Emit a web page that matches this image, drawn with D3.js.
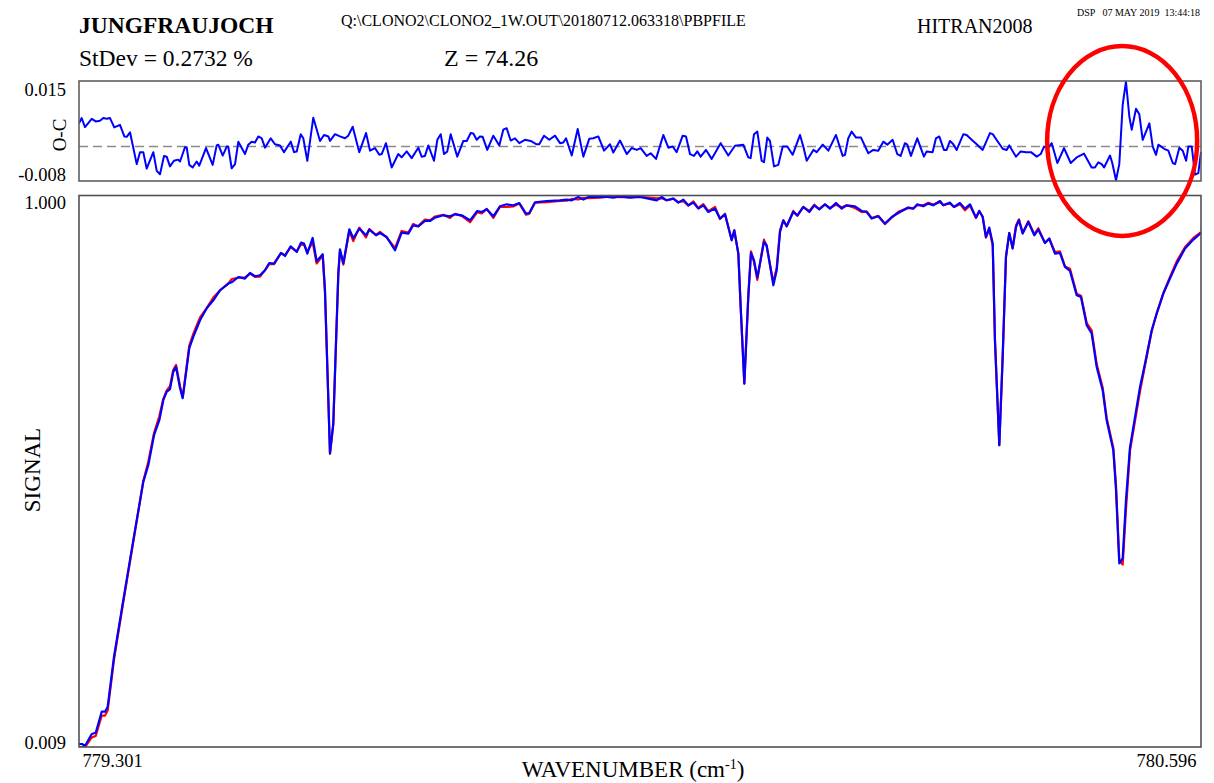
<!DOCTYPE html>
<html>
<head>
<meta charset="utf-8">
<script src="https://cdn.jsdelivr.net/npm/d3@7"></script>
<style>
  html, body { margin: 0; padding: 0; background: #ffffff; }
  svg text { font-family: "Liberation Serif", "Times New Roman", serif; fill: #000; }
</style>
</head>
<body>
<svg id="chart" width="1214" height="783"></svg>
<script>
// Spectral grid (cm-1) of the fitted window
const wavenumber = [
  779.3010, 779.3045, 779.3079, 779.3157, 779.3203, 779.3272, 779.3310, 779.3341, 779.3414, 779.3521,
  779.3637, 779.3752, 779.3810, 779.3876, 779.3937, 779.3983, 779.4022, 779.4060, 779.4098, 779.4130,
  779.4176, 779.4207, 779.4283, 779.4329, 779.4407, 779.4484, 779.4560, 779.4637, 779.4733, 779.4772,
  779.4849, 779.4926, 779.4984, 779.5041, 779.5099, 779.5157, 779.5206, 779.5261, 779.5341, 779.5388,
  779.5453, 779.5523, 779.5572, 779.5607, 779.5645, 779.5707, 779.5753, 779.5823, 779.5849, 779.5907,
  779.5945, 779.6003, 779.6022, 779.6061, 779.6130, 779.6176, 779.6245, 779.6323, 779.6361, 779.6438,
  779.6484, 779.6561, 779.6657, 779.6734, 779.6811, 779.6868, 779.6926, 779.7003, 779.7061, 779.7119,
  779.7215, 779.7292, 779.7350, 779.7427, 779.7523, 779.7607, 779.7658, 779.7716, 779.7792, 779.7869,
  779.7946, 779.8023, 779.8092, 779.8169, 779.8207, 779.8273, 779.8408, 779.8562, 779.8639, 779.8697,
  779.8773, 779.8831, 779.8888, 779.9023, 779.9100, 779.9177, 779.9254, 779.9370, 779.9485, 779.9581,
  779.9678, 779.9736, 779.9793, 779.9870, 779.9927, 779.9985, 780.0043, 780.0101, 780.0158, 780.0216,
  780.0273, 780.0351, 780.0408, 780.0466, 780.0543, 780.0573, 780.0620, 780.0647, 780.0689, 780.0735,
  780.0766, 780.0801, 780.0839, 780.0916, 780.0947, 780.1024, 780.1063, 780.1101, 780.1139, 780.1178,
  780.1254, 780.1301, 780.1370, 780.1439, 780.1497, 780.1554, 780.1620, 780.1678, 780.1747, 780.1813,
  780.1870, 780.1966, 780.2044, 780.2101, 780.2159, 780.2235, 780.2312, 780.2390, 780.2466, 780.2581,
  780.2639, 780.2685, 780.2755, 780.2812, 780.2870, 780.2948, 780.2986, 780.3063, 780.3109, 780.3178,
  780.3236, 780.3294, 780.3363, 780.3401, 780.3440, 780.3478, 780.3516, 780.3556, 780.3582, 780.3632,
  780.3671, 780.3709, 780.3747, 780.3786, 780.3825, 780.3859, 780.3902, 780.3967, 780.4036, 780.4082,
  780.4159, 780.4209, 780.4275, 780.4332, 780.4390, 780.4448, 780.4525, 780.4575, 780.4641, 780.4698,
  780.4756, 780.4825, 780.4871, 780.4948, 780.4979, 780.5017, 780.5056, 780.5094, 780.5140, 780.5256,
  780.5314, 780.5391, 780.5449, 780.5525, 780.5602, 780.5680, 780.5776, 780.5872, 780.5960
];

// Observed transmission (blue)
const observed = [
  0.0144, 0.0144, 0.0108, 0.0324, 0.0347, 0.0725, 0.0725, 0.0815, 0.1714, 0.2734,
  0.3813, 0.4861, 0.5162, 0.5701, 0.5971, 0.6331, 0.6480, 0.6529, 0.6840, 0.6930,
  0.6547, 0.6367, 0.7266, 0.7469, 0.7770, 0.7985, 0.8129, 0.8309, 0.8430, 0.8453,
  0.8548, 0.8519, 0.8620, 0.8561, 0.8579, 0.8669, 0.8800, 0.8789, 0.8980, 0.8926,
  0.9100, 0.8998, 0.9167, 0.9149, 0.8969, 0.9250, 0.8831, 0.8957, 0.8309, 0.5378,
  0.5917, 0.8615, 0.9047, 0.8795, 0.9406, 0.9245, 0.9419, 0.9299, 0.9401, 0.9299,
  0.9340, 0.9268, 0.9029, 0.9347, 0.9329, 0.9478, 0.9460, 0.9556, 0.9556, 0.9617,
  0.9658, 0.9640, 0.9676, 0.9658, 0.9568, 0.9736, 0.9718, 0.9766, 0.9640, 0.9820,
  0.9856, 0.9838, 0.9879, 0.9689, 0.9700, 0.9892, 0.9915, 0.9928, 0.9940, 0.9928,
  0.9987, 0.9940, 0.9987, 0.9995, 0.9987, 0.9976, 1.0000, 0.9976, 0.9987, 0.9958,
  0.9928, 0.9987, 0.9928, 0.9958, 0.9886, 0.9940, 0.9838, 0.9886, 0.9778, 0.9838,
  0.9718, 0.9778, 0.9599, 0.9676, 0.9208, 0.9388, 0.8969, 0.8009, 0.6631, 0.8189,
  0.8980, 0.8849, 0.8537, 0.9178, 0.9118, 0.8399, 0.8669, 0.9358, 0.9568, 0.9460,
  0.9718, 0.9658, 0.9808, 0.9718, 0.9838, 0.9766, 0.9856, 0.9778, 0.9879, 0.9778,
  0.9838, 0.9820, 0.9736, 0.9718, 0.9599, 0.9640, 0.9509, 0.9628, 0.9700, 0.9797,
  0.9778, 0.9856, 0.9820, 0.9868, 0.9838, 0.9915, 0.9838, 0.9886, 0.9808, 0.9879,
  0.9778, 0.9856, 0.9617, 0.9736, 0.9628, 0.9268, 0.9437, 0.9149, 0.7410, 0.5521,
  0.7110, 0.8908, 0.9340, 0.9059, 0.9448, 0.9568, 0.9329, 0.9537, 0.9298, 0.9401,
  0.9160, 0.9239, 0.8969, 0.8980, 0.8728, 0.8656, 0.8219, 0.8189, 0.7680, 0.7530,
  0.6930, 0.6511, 0.5971, 0.5431, 0.4712, 0.3394, 0.3484, 0.4532, 0.5477, 0.6570,
  0.6991, 0.7590, 0.7890, 0.8250, 0.8520, 0.8789, 0.9059, 0.9221, 0.9340
];

// Calculated transmission (red)
const calculated = [
  0.0084, 0.0084, 0.0085, 0.0264, 0.0287, 0.0655, 0.0655, 0.0745, 0.1664, 0.2694,
  0.3783, 0.4876, 0.5222, 0.5741, 0.6041, 0.6356, 0.6507, 0.6582, 0.6878, 0.6965,
  0.6587, 0.6387, 0.7315, 0.7525, 0.7820, 0.7989, 0.8178, 0.8305, 0.8430, 0.8511,
  0.8535, 0.8539, 0.8610, 0.8550, 0.8554, 0.8672, 0.8780, 0.8781, 0.8977, 0.8941,
  0.9087, 0.9011, 0.9134, 0.9129, 0.9007, 0.9173, 0.8791, 0.8932, 0.8279, 0.5363,
  0.5887, 0.8585, 0.9020, 0.8771, 0.9376, 0.9195, 0.9434, 0.9263, 0.9411, 0.9304,
  0.9360, 0.9259, 0.9069, 0.9376, 0.9349, 0.9503, 0.9463, 0.9581, 0.9566, 0.9637,
  0.9668, 0.9610, 0.9686, 0.9648, 0.9533, 0.9716, 0.9692, 0.9774, 0.9611, 0.9815,
  0.9807, 0.9818, 0.9870, 0.9671, 0.9685, 0.9884, 0.9893, 0.9919, 0.9920, 0.9952,
  0.9942, 0.9967, 0.9967, 0.9975, 0.9990, 0.9992, 0.9984, 0.9986, 0.9992, 0.9978,
  0.9961, 0.9967, 0.9928, 0.9958, 0.9896, 0.9911, 0.9833, 0.9910, 0.9793, 0.9858,
  0.9733, 0.9808, 0.9591, 0.9686, 0.9218, 0.9388, 0.8969, 0.8009, 0.6626, 0.8218,
  0.9010, 0.8816, 0.8497, 0.9220, 0.9098, 0.8449, 0.8719, 0.9388, 0.9568, 0.9460,
  0.9738, 0.9648, 0.9808, 0.9738, 0.9848, 0.9771, 0.9856, 0.9788, 0.9849, 0.9803,
  0.9838, 0.9790, 0.9716, 0.9728, 0.9609, 0.9650, 0.9499, 0.9613, 0.9720, 0.9792,
  0.9783, 0.9836, 0.9840, 0.9883, 0.9853, 0.9895, 0.9843, 0.9871, 0.9808, 0.9859,
  0.9748, 0.9836, 0.9611, 0.9736, 0.9637, 0.9258, 0.9407, 0.9116, 0.7390, 0.5521,
  0.7116, 0.8917, 0.9337, 0.9071, 0.9475, 0.9586, 0.9343, 0.9552, 0.9318, 0.9425,
  0.9162, 0.9239, 0.8994, 0.9010, 0.8738, 0.8696, 0.8248, 0.8212, 0.7720, 0.7586,
  0.6980, 0.6561, 0.6011, 0.5475, 0.4802, 0.3441, 0.3373, 0.4359, 0.5417, 0.6490,
  0.6961, 0.7570, 0.7900, 0.8256, 0.8550, 0.8829, 0.9089, 0.9251, 0.9355
];

// Residual (observed minus calculated) grid and values
const residualWavenumber = [
  779.3010, 779.3041, 779.3079, 779.3157, 779.3203, 779.3252, 779.3290, 779.3330, 779.3368, 779.3417,
  779.3483, 779.3533, 779.3561, 779.3599, 779.3676, 779.3714, 779.3752, 779.3791, 779.3868, 779.3907,
  779.3945, 779.3991, 779.4022, 779.4060, 779.4106, 779.4156, 779.4176, 779.4233, 779.4253, 779.4283,
  779.4322, 779.4368, 779.4398, 779.4476, 779.4553, 779.4599, 779.4618, 779.4669, 779.4715, 779.4733,
  779.4772, 779.4811, 779.4849, 779.4926, 779.4964, 779.5003, 779.5041, 779.5080, 779.5119, 779.5157,
  779.5223, 779.5272, 779.5330, 779.5376, 779.5454, 779.5492, 779.5523, 779.5569, 779.5599, 779.5645,
  779.5714, 779.5792, 779.5838, 779.5888, 779.5907, 779.5965, 779.6022, 779.6080, 779.6118, 779.6169,
  779.6245, 779.6323, 779.6369, 779.6426, 779.6476, 779.6504, 779.6553, 779.6619, 779.6695, 779.6734,
  779.6792, 779.6850, 779.6926, 779.6965, 779.7003, 779.7042, 779.7107, 779.7146, 779.7185, 779.7223,
  779.7261, 779.7300, 779.7376, 779.7446, 779.7485, 779.7531, 779.7561, 779.7600, 779.7638, 779.7669,
  779.7722, 779.7792, 779.7861, 779.7907, 779.7946, 779.7992, 779.8042, 779.8092, 779.8157, 779.8223,
  779.8292, 779.8322, 779.8377, 779.8438, 779.8504, 779.8562, 779.8600, 779.8631, 779.8697, 779.8766,
  779.8831, 779.8900, 779.8946, 779.9004, 779.9070, 779.9139, 779.9177, 779.9254, 779.9332, 779.9389,
  779.9447, 779.9493, 779.9562, 779.9608, 779.9670, 779.9754, 779.9812, 779.9862, 779.9908, 779.9978,
  780.0016, 780.0062, 780.0108, 780.0146, 780.0185, 780.0247, 780.0312, 780.0416, 780.0504, 780.0581,
  780.0677, 780.0735, 780.0762, 780.0801, 780.0839, 780.0889, 780.0916, 780.0954, 780.0985, 780.1032,
  780.1081, 780.1132, 780.1185, 780.1247, 780.1332, 780.1370, 780.1409, 780.1486, 780.1525, 780.1594,
  780.1659, 780.1747, 780.1824, 780.1851, 780.1889, 780.1928, 780.1978, 780.2036, 780.2120, 780.2178,
  780.2235, 780.2293, 780.2339, 780.2401, 780.2454, 780.2493, 780.2543, 780.2570, 780.2612, 780.2685,
  780.2762, 780.2793, 780.2862, 780.2901, 780.2939, 780.2993, 780.3024, 780.3063, 780.3101, 780.3140,
  780.3217, 780.3255, 780.3313, 780.3371, 780.3440, 780.3524, 780.3556, 780.3671, 780.3717, 780.3747,
  780.3825, 780.3879, 780.3940, 780.3998, 780.4064, 780.4110, 780.4148, 780.4186, 780.4237, 780.4302,
  780.4379, 780.4456, 780.4525, 780.4610, 780.4698, 780.4736, 780.4775, 780.4814, 780.4841, 780.4910,
  780.4936, 780.4979, 780.5017, 780.5056, 780.5094, 780.5133, 780.5160, 780.5210, 780.5248, 780.5287,
  780.5364, 780.5403, 780.5441, 780.5468, 780.5534, 780.5583, 780.5634, 780.5661, 780.5710, 780.5749,
  780.5788, 780.5814, 780.5853, 780.5891, 780.5929, 780.5960
];

const residual = [
   0.0062,  0.0076,  0.0052,  0.0074,  0.0067,  0.0069,  0.0076,  0.0074,  0.0076,  0.0051,
   0.0058,  0.0027,  0.0026,  0.0038, -0.0047, -0.0015, -0.0015, -0.0059, -0.0015, -0.0065,
  -0.0074, -0.0025, -0.0027, -0.0053, -0.0038, -0.0035, -0.0040, -0.0002, -0.0002, -0.0049,
  -0.0056, -0.0040, -0.0051, -0.0004, -0.0049,  0.0003,  0.0005, -0.0024,  0.0000,  0.0000,
  -0.0058, -0.0047,  0.0013, -0.0020,  0.0005,  0.0013,  0.0011,  0.0027,  0.0022, -0.0003,
   0.0022,  0.0006,  0.0003, -0.0015,  0.0013, -0.0015, -0.0013,  0.0033,  0.0022, -0.0038,
   0.0077,  0.0015,  0.0031,  0.0027,  0.0015,  0.0033,  0.0027,  0.0022,  0.0029,  0.0053,
  -0.0015,  0.0036, -0.0011, -0.0004, -0.0022, -0.0020,  0.0009, -0.0056, -0.0020, -0.0029,
  -0.0013, -0.0031, -0.0003, -0.0027, -0.0025,  0.0003, -0.0038,  0.0018,  0.0033, -0.0020,
  -0.0013,  0.0033, -0.0027,  0.0015,  0.0015,  0.0036,  0.0035,  0.0018,  0.0027,  0.0026,
  -0.0009,  0.0029,  0.0003,  0.0045,  0.0049,  0.0016,  0.0022,  0.0009,  0.0018,  0.0015,
   0.0006,  0.0006,  0.0029,  0.0018,  0.0029,  0.0009,  0.0011,  0.0022, -0.0024,  0.0047,
  -0.0027,  0.0021,  0.0022,  0.0027, -0.0011,  0.0006, -0.0016,  0.0016, -0.0020, -0.0004,
  -0.0009, -0.0004, -0.0025, -0.0018, -0.0033,  0.0031, -0.0003,  0.0000, -0.0015,  0.0029,
   0.0027, -0.0020, -0.0025, -0.0013, -0.0027, -0.0009, -0.0033,  0.0009, -0.0024,  0.0002,
   0.0005, -0.0029, -0.0031,  0.0033,  0.0040, -0.0038, -0.0042,  0.0024,  0.0015, -0.0053,
  -0.0049,  0.0000,  0.0000, -0.0022,  0.0031,  0.0000, -0.0038, -0.0009, -0.0015,  0.0005,
  -0.0011,  0.0031, -0.0025, -0.0022,  0.0022,  0.0040,  0.0024,  0.0024, -0.0018, -0.0009,
  -0.0011,  0.0013,  0.0005,  0.0018, -0.0020, -0.0025,  0.0009,  0.0005, -0.0025,  0.0022,
  -0.0027, -0.0013, -0.0015,  0.0022,  0.0027, -0.0009, -0.0009,  0.0015,  0.0006, -0.0009,
   0.0033,  0.0031,  0.0018,  0.0006, -0.0009,  0.0036,  0.0033, -0.0006, -0.0009,  0.0003,
  -0.0027, -0.0013, -0.0015, -0.0015, -0.0027, -0.0020,  0.0000, -0.0006,  0.0009, -0.0044,
  -0.0004, -0.0044, -0.0029, -0.0019, -0.0056, -0.0056, -0.0042, -0.0047, -0.0056, -0.0024,
  -0.0044, -0.0090, -0.0047,  0.0111,  0.0173,  0.0080,  0.0045,  0.0101,  0.0086,  0.0018,
   0.0062,  0.0000, -0.0022,  0.0005, -0.0006, -0.0011, -0.0044, -0.0047, -0.0003, -0.0011,
  -0.0038,  0.0000,  0.0000, -0.0075, -0.0071, -0.0015
];

// Axis labels
const xTickValues = [779.301, 780.596];
const signalTickValues = [0.009, 1.000];
const residualTickValues = [0.015, -0.008];

// Header texts
const site = "JUNGFRAUJOCH";
const filePath = "Q:\\CLONO2\\CLONO2_1W.OUT\\20180712.063318\\PBPFILE";
const lineList = "HITRAN2008";
const stamp = "DSP   07 MAY 2019  13:44:18";
const stdevText = "StDev = 0.2732 %";
const zenithText = "Z = 74.26";

// ---------- layout ----------
const svg = d3.select("#chart");
const left = 79, right = 1201;
const res = { top: 81, bottom: 181 };
const main = { top: 195.5, bottom: 747 };

const x = d3.scaleLinear().domain([779.301, 780.596]).range([left, right]);
const yRes = d3.scaleLinear().domain([-0.0092, 0.0175]).range([res.bottom, res.top]);
const ySig = d3.scaleLinear().domain([0.009, 1.0]).range([main.bottom, main.top + 0.8]);

// plain hyphen for negative tick labels
const fmt3 = v => d3.format(".3f")(v).replace("\u2212", "-");

const defs = svg.append("defs");
defs.append("clipPath").attr("id", "clipRes").append("rect")
  .attr("x", left).attr("y", res.top - 1).attr("width", right - left + 1).attr("height", res.bottom - res.top + 2);
defs.append("clipPath").attr("id", "clipMain").append("rect")
  .attr("x", left).attr("y", main.top - 1).attr("width", right - left + 1).attr("height", main.bottom - main.top + 1);

// ---------- header ----------
svg.append("text").attr("x", 79).attr("y", 33).attr("font-size", 23.5).attr("font-weight", "bold").text(site);
svg.append("text").attr("x", 341).attr("y", 26).attr("font-size", 16).text(filePath);
svg.append("text").attr("x", 917).attr("y", 33).attr("font-size", 20).text(lineList);
svg.append("text").attr("x", 1200).attr("y", 16).attr("font-size", 10).attr("text-anchor", "end")
  .style("white-space", "pre").text(stamp);
svg.append("text").attr("x", 79).attr("y", 66).attr("font-size", 23.5).text(stdevText);
svg.append("text").attr("x", 444).attr("y", 66).attr("font-size", 24).text(zenithText);

// ---------- residual panel ----------
svg.append("line")
  .attr("x1", left).attr("x2", right).attr("y1", yRes(0)).attr("y2", yRes(0))
  .attr("stroke", "#8a8a8a").attr("stroke-width", 1.4).attr("stroke-dasharray", "9,5");

const resLine = d3.line().x(d => x(d[0])).y(d => yRes(d[1]));
svg.append("path")
  .datum(d3.zip(residualWavenumber, residual))
  .attr("clip-path", "url(#clipRes)")
  .attr("fill", "none").attr("stroke", "#0000ff").attr("stroke-width", 2).attr("stroke-linejoin", "round")
  .attr("d", resLine);

svg.append("rect").attr("x", left).attr("y", res.top).attr("width", right - left).attr("height", res.bottom - res.top)
  .attr("fill", "none").attr("stroke", "#606060").attr("stroke-width", 1.6);

const resAxis = svg.append("g").attr("transform", `translate(${left},0)`)
  .call(d3.axisLeft(yRes).tickValues(residualTickValues).tickSize(0).tickPadding(13).tickFormat(fmt3));
resAxis.select(".domain").remove();
resAxis.selectAll("text").attr("font-size", 18.5).attr("font-family", null)
  .attr("transform", d => d > 0 ? "translate(0,-0.5)" : "translate(0,-1.5)");

svg.append("text").attr("transform", "translate(66,135) rotate(-90)")
  .attr("text-anchor", "middle").attr("font-size", 19).text("O-C");

// ---------- signal panel ----------
const sigLine = d3.line().x(d => x(d[0])).y(d => ySig(d[1]));
const plot = svg.append("g").attr("clip-path", "url(#clipMain)");
plot.append("path")
  .datum(d3.zip(wavenumber, calculated))
  .attr("fill", "none").attr("stroke", "#ff0000").attr("stroke-width", 2.2).attr("stroke-linejoin", "round")
  .attr("d", sigLine);
plot.append("path")
  .datum(d3.zip(wavenumber, observed))
  .attr("fill", "none").attr("stroke", "#0000ff").attr("stroke-width", 2.2).attr("stroke-linejoin", "round")
  .attr("d", sigLine);

svg.append("rect").attr("x", left).attr("y", main.top).attr("width", right - left).attr("height", main.bottom - main.top)
  .attr("fill", "none").attr("stroke", "#505050").attr("stroke-width", 1.6);

const sigAxis = svg.append("g").attr("transform", `translate(${left},0)`)
  .call(d3.axisLeft(ySig).tickValues(signalTickValues).tickSize(0).tickPadding(13).tickFormat(fmt3));
sigAxis.select(".domain").remove();
sigAxis.selectAll("text").attr("font-size", 18.5).attr("font-family", null)
  .attr("transform", d => d > 0.5 ? "translate(0,6.5)" : "translate(0,-4)");

const xAxis = svg.append("g").attr("transform", `translate(0,${main.bottom})`)
  .call(d3.axisBottom(x).tickValues(xTickValues).tickSize(0).tickPadding(7).tickFormat(fmt3));
xAxis.select(".domain").remove();
xAxis.selectAll("text").attr("font-size", 18.5).attr("font-family", null)
  .attr("text-anchor", (d, i) => i === 0 ? "start" : "end")
  .attr("transform", (d, i) => i === 0 ? "translate(3,0)" : "translate(-5,0)");

svg.append("text").attr("transform", "translate(40,470) rotate(-90)")
  .attr("text-anchor", "middle").attr("font-size", 23).text("SIGNAL");

const xTitle = svg.append("text").attr("x", 633).attr("y", 777).attr("text-anchor", "middle").attr("font-size", 23);
xTitle.append("tspan").text("WAVENUMBER (cm");
xTitle.append("tspan").attr("font-size", 14).attr("dy", -8).text("-1");
xTitle.append("tspan").attr("dy", 8).text(")");

// ---------- highlight around the residual spike ----------
svg.append("ellipse")
  .attr("cx", x(780.505)).attr("cy", 141).attr("rx", 75).attr("ry", 95)
  .attr("fill", "none").attr("stroke", "#ff0000").attr("stroke-width", 4.5);
</script>
</body>
</html>
